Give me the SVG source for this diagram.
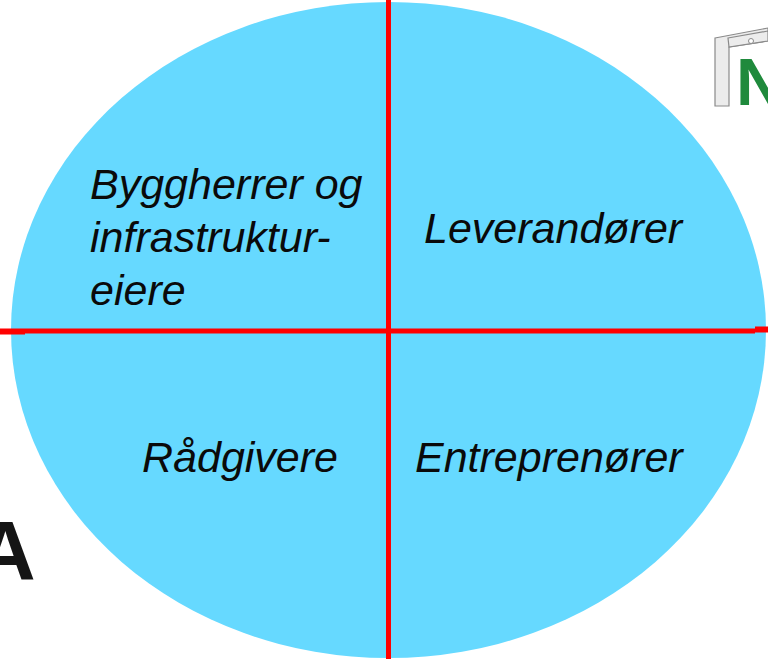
<svg xmlns="http://www.w3.org/2000/svg" width="768" height="659" viewBox="0 0 768 659">
<style>
.q{font-family:"Liberation Sans",Arial,sans-serif;font-style:italic;font-size:43px;fill:#0a0a0a}
.r{stroke:#f00;stroke-width:5;fill:none}
.b{font-family:"Liberation Sans",Arial,sans-serif;font-weight:bold}
.g{fill:#ececec;stroke:#8a8a8a;stroke-width:1.2}
</style>
<rect width="768" height="659" fill="#fff"/>
<g id="logo">
<path class="g" d="M715 38L768 28V41L729 47V106H715Z"/>
<path class="g" d="M728 38L768 31V41L729 47Z"/>
<circle cx="751" cy="41" r="2.5" fill="#fff" stroke="#8a8a8a"/>
<text class="b" x="736" y="105" font-size="67" fill="#1f8a3c">N</text>
</g>
<text id="partial-letter" class="b" x="-25" y="580" font-size="84" fill="#151515">A</text>
<g id="ellipse"><ellipse cx="388.5" cy="330" rx="377.5" ry="328" fill="#66d9ff"/></g>
<g id="connectors">
<path class="r" d="M388.500 0V659"/>
<path class="r" d="M25 331H755"/>
<path d="M0 331.500H25M755 329.500H768" stroke="#f00" stroke-width="6" fill="none"/>
</g>
<g id="byggherrer"><text class="q" x="90" y="199">Byggherrer og</text><text class="q" x="90" y="252">infrastruktur-</text><text class="q" x="90" y="305">eiere</text></g>
<g id="leverandorer"><text class="q" x="424" y="243">Leverandører</text></g>
<g id="radgivere"><text class="q" x="142" y="472">Rådgivere</text></g>
<g id="entreprenorer"><text class="q" x="415" y="472">Entreprenører</text></g>
</svg>
